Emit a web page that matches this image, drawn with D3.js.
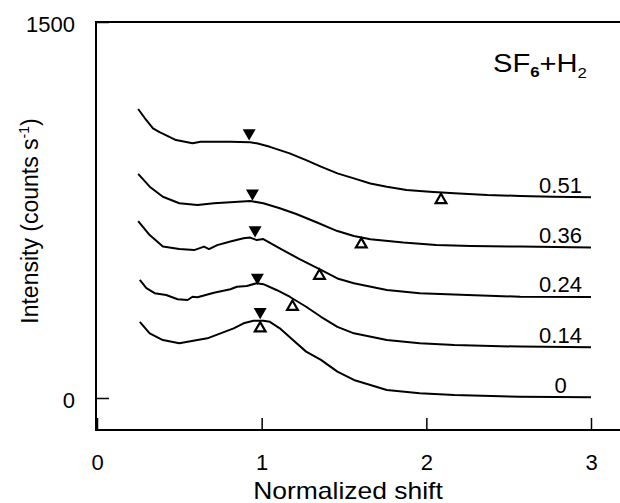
<!DOCTYPE html>
<html>
<head>
<meta charset="utf-8">
<script src="https://cdn.jsdelivr.net/npm/d3@7"></script>
<style>
  body { margin: 0; background: #fff; }
  svg { display: block; font-family: "Liberation Sans", Arial, sans-serif; }
</style>
</head>
<body>
<div id="chart"></div>
<script>
// spectra, [normalized shift, intensity (counts/s)]
var curve051 = [[0.25,1153],[0.29,1117],[0.34,1076],[0.38,1061],[0.48,1029],[0.58,1016],[0.63,1022],[0.73,1022],
    [0.81,1022],[0.93,1020],[0.97,1016],[1.05,1002],[1.17,976],[1.27,949],[1.36,923],[1.46,896],[1.56,876],
    [1.66,856],[1.76,843],[1.88,830],[2.02,823],[2.17,817],[2.37,810],[2.57,806],[2.77,803],[3.0,801]];
var curve036 = [[0.25,894],[0.32,843],[0.40,803],[0.50,777],[0.61,770],[0.71,777],[0.81,781],[0.93,786],
    [1.01,777],[1.11,757],[1.21,734],[1.34,699],[1.42,677],[1.46,666],[1.56,646],[1.66,633],[1.86,620],
    [2.06,610],[2.27,606],[2.57,604],[3.0,600]];
var curve024 = [[0.25,706],[0.32,650],[0.40,604],[0.50,594],[0.59,590],[0.65,604],[0.68,594],[0.73,610],
    [0.81,624],[0.89,637],[0.93,640],[0.97,630],[1.01,634],[1.11,597],[1.23,554],[1.36,511],[1.46,477],
    [1.56,458],[1.76,431],[1.96,418],[2.25,411],[2.57,404],[3.0,403]];
var curve014 = [[0.26,471],[0.30,438],[0.35,418],[0.42,411],[0.49,394],[0.55,391],[0.58,404],[0.61,402],
    [0.71,420],[0.81,434],[0.85,444],[0.91,447],[0.97,458],[1.01,454],[1.09,431],[1.17,404],[1.27,364],
    [1.36,324],[1.46,284],[1.56,258],[1.76,231],[1.96,218],[2.17,211],[2.57,205],[3.0,202]];
var curve000 = [[0.26,304],[0.32,258],[0.40,231],[0.50,218],[0.61,231],[0.67,238],[0.75,258],[0.83,278],
    [0.89,298],[0.95,308],[1.01,308],[1.05,304],[1.11,278],[1.19,231],[1.27,185],[1.36,152],[1.46,105],
    [1.56,72],[1.76,32],[1.96,19],[2.17,12],[2.57,5],[3.0,3]];

var curves = [curve051, curve036, curve024, curve014, curve000];
var curveLabels = ['0.51', '0.36', '0.24', '0.14', '0'];

// markers
var filledMarks = [[0.924,1057],[0.944,817],[0.960,670],[0.974,481],[0.991,344]];
var openMarks = [[2.089,790],[1.605,613],[1.351,488],[1.187,364],[0.991,278]];

var xTicks = [0, 1, 2, 3];
var yTicks = [0, 1500];

var width = 620, height = 503;

var svg = d3.select('#chart').append('svg')
    .attr('width', width)
    .attr('height', height);

svg.append('rect').attr('width', width).attr('height', height).attr('fill', '#fff');

var x = d3.scaleLinear().domain([0, 3]).range([97, 591]),
    y = d3.scaleLinear().domain([0, 1500]).range([398, 22]);

// frame
var frameLeft = 96, frameTop = 22, frameBottom = 430;
svg.append('path')
    .attr('d', 'M' + width + ',' + frameTop + 'H' + frameLeft + 'V' + frameBottom + 'H' + width)
    .attr('fill', 'none')
    .attr('stroke', '#000')
    .attr('stroke-width', 2);

// x axis, ticks pointing up into the plot
var xAxis = svg.append('g')
    .attr('transform', 'translate(0,' + frameBottom + ')')
    .call(d3.axisBottom(x).tickValues(xTicks).tickFormat(d3.format('d')).tickSize(-12).tickPadding(24));
xAxis.select('.domain').remove();
xAxis.selectAll('line').attr('stroke-width', 1.5);
xAxis.selectAll('text').attr('font-size', 22).attr('fill', '#000').attr('font-family', null);

var yAxis = svg.append('g')
    .attr('transform', 'translate(' + frameLeft + ',0)')
    .call(d3.axisLeft(y).tickValues(yTicks).tickFormat(d3.format('d')).tickSize(-13).tickPadding(21));
yAxis.select('.domain').remove();
yAxis.selectAll('line').attr('stroke-width', 1.5);
yAxis.selectAll('text').attr('font-size', 22).attr('dy', '0.45em').attr('fill', '#000').attr('font-family', null);

// axis titles (the original face is wider than Arial, so stretch a little)
svg.append('text')
    .attr('transform', 'translate(348,499) scale(1.15,1)')
    .attr('text-anchor', 'middle')
    .attr('font-size', 23)
    .text('Normalized shift');

var yTitle = svg.append('text')
    .attr('transform', 'translate(37.5,221) rotate(-90)')
    .attr('text-anchor', 'middle')
    .attr('font-size', 23);
yTitle.append('tspan').text('Intensity (counts s');
yTitle.append('tspan').attr('font-size', 14).attr('dy', -9).text('-1');
yTitle.append('tspan').attr('dy', 9).text(')');

// curves
var line = d3.line()
    .x(function (d) { return x(d[0]); })
    .y(function (d) { return y(d[1]); });

svg.append('g').selectAll('path')
    .data(curves)
    .enter().append('path')
    .attr('d', line)
    .attr('fill', 'none')
    .attr('stroke', '#000')
    .attr('stroke-width', 2)
    .attr('stroke-linejoin', 'round');

svg.append('g').selectAll('text')
    .data(curves)
    .enter().append('text')
    .attr('x', x(2.815))
    .attr('y', function (d) { return y(d[d.length - 1][1]) - 4.5; })
    .attr('text-anchor', 'middle')
    .attr('font-size', 22)
    .text(function (d, i) { return curveLabels[i]; });

// triangles
svg.append('g').selectAll('path')
    .data(filledMarks)
    .enter().append('path')
    .attr('d', d3.symbol().type(d3.symbolTriangle).size(73))
    .attr('transform', function (d) { return 'translate(' + x(d[0]) + ',' + y(d[1]) + ') rotate(180)'; })
    .attr('fill', '#000');

svg.append('g').selectAll('path')
    .data(openMarks)
    .enter().append('path')
    .attr('d', d3.symbol().type(d3.symbolTriangle).size(50))
    .attr('transform', function (d) { return 'translate(' + x(d[0]) + ',' + y(d[1]) + ')'; })
    .attr('fill', '#fff')
    .attr('stroke', '#000')
    .attr('stroke-width', 2.2);

// gas label
var gas = svg.append('text')
    .attr('transform', 'translate(493,72) scale(1.12,1)')
    .attr('font-size', 26);
gas.append('tspan').text('SF');
gas.append('tspan').attr('font-size', 15).attr('font-weight', 'bold').attr('dy', 5).text('6');
gas.append('tspan').attr('dy', -5).text('+H');
gas.append('tspan').attr('font-size', 15).attr('dy', 6).text('2');
</script>
</body>
</html>
